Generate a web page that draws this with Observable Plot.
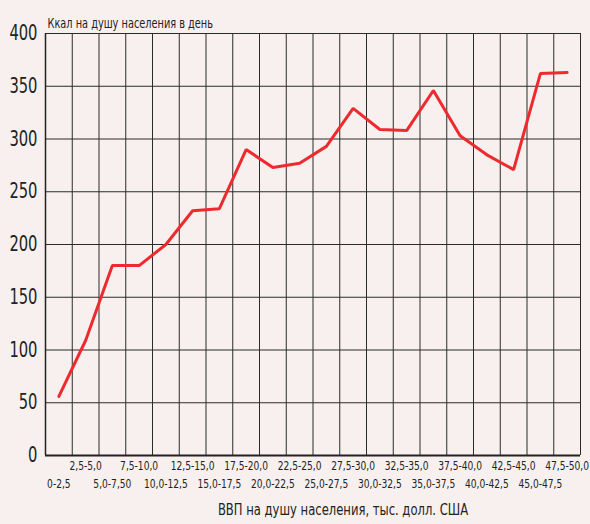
<!DOCTYPE html>
<html>
<head>
<meta charset="utf-8">
<script src="https://cdn.jsdelivr.net/npm/d3@7"></script>
<script src="https://cdn.jsdelivr.net/npm/@observablehq/plot@0.6"></script>
<style>
  html, body { margin: 0; padding: 0; background: #f7f0ee; }
  #chart { width: 590px; height: 524px; }
</style>
</head>
<body>
<div id="chart"></div>
<script>
const categories = ["0-2,5","2,5-5,0","5,0-7,50","7,5-10,0","10,0-12,5","12,5-15,0","15,0-17,5","17,5-20,0","20,0-22,5","22,5-25,0","25,0-27,5","27,5-30,0","30,0-32,5","32,5-35,0","35,0-37,5","37,5-40,0","40,0-42,5","42,5-45,0","45,0-47,5","47,5-50,0"];
const kcal = [56, 109, 180, 180, 200, 232, 234, 290, 273, 277, 293, 329, 309, 308, 346, 303, 285, 271, 362, 363];
const yTicks = [0, 50, 100, 150, 200, 250, 300, 350, 400];
const yTitle = "Ккал на душу населения в день";
const xTitle = "ВВП на душу населения, тыс. долл. США";

const data = categories.map((c, i) => ({cat: c, idx: i, value: kcal[i]}));
const boundaries = d3.range(0, categories.length + 1);
const lower = data.filter(d => d.idx % 2 === 0);
const upper = data.filter(d => d.idx % 2 === 1);

const FONT = "'DejaVu Sans Condensed', 'Liberation Sans Narrow', sans-serif";
const chart = Plot.plot({
  width: 590,
  height: 524,
  marginLeft: 45,
  marginRight: 10,
  marginTop: 33,
  marginBottom: 69,
  style: {background: "#f7f0ee", fontFamily: FONT},
  x: {domain: [0, categories.length], axis: null},
  y: {domain: [0, 400], axis: null},
  marks: [
    Plot.ruleY(yTicks, {stroke: "#2b2b2b", strokeWidth: 1}),
    Plot.ruleX(boundaries, {stroke: "#2b2b2b", strokeWidth: 1}),
    Plot.ruleY([0], {stroke: "#222", strokeWidth: 2}),
    Plot.ruleX([0], {stroke: "#222", strokeWidth: 1.5}),
    Plot.text(yTicks, {x: 0, y: d => d, text: d => String(d), textAnchor: "end", dx: -8, fontSize: 21, fill: "#222"}),
    Plot.text(upper, {x: d => d.idx + 0.5, text: "cat", frameAnchor: "bottom", dy: 14, fontSize: 13, fill: "#222"}),
    Plot.text(lower, {x: d => d.idx + 0.5, text: "cat", frameAnchor: "bottom", dy: 32, fontSize: 13, fill: "#222"}),
    Plot.text([yTitle], {frameAnchor: "top-left", dx: 2, dy: -16, text: d => d, fontSize: 14.5, fill: "#222", textAnchor: "start"}),
    Plot.text([xTitle], {frameAnchor: "bottom", dy: 59, dx: 30, text: d => d, fontSize: 15, fill: "#222"}),
    Plot.line(data, {x: d => d.idx + 0.5, y: "value", stroke: "#ee2a2e", strokeWidth: 3, strokeLinejoin: "miter"})
  ]
});
document.getElementById("chart").appendChild(chart);

// condense glyphs horizontally (around each text's anchor) to mimic the narrow typeface of the original
const factors = {"21": 0.78, "13": 0.78, "14.5": 0.75, "15": 0.86};
chart.querySelectorAll("g[aria-label='text']").forEach(g => {
  const f = factors[g.getAttribute("font-size")];
  if (!f) return;
  g.querySelectorAll("text").forEach(t => {
    const tr = t.getAttribute("transform");
    if (tr) {
      t.setAttribute("transform", `${tr} scale(${f},1)`);
    } else {
      const x = +(t.getAttribute("x") || 0), y = +(t.getAttribute("y") || 0);
      t.setAttribute("transform", `translate(${x},${y}) scale(${f},1) translate(${-x},${-y})`);
    }
  });
});
</script>
</body>
</html>
